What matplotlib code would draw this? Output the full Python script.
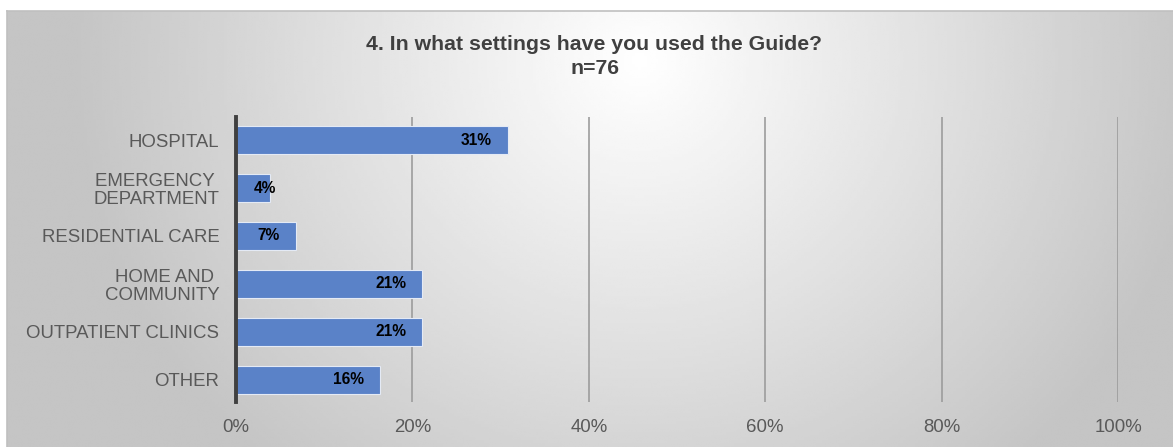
import numpy as np
import matplotlib.pyplot as plt

categories = ["HOSPITAL", "EMERGENCY \nDEPARTMENT", "RESIDENTIAL CARE",
              "HOME AND \nCOMMUNITY", "OUTPATIENT CLINICS", "OTHER"]
values = [30.8, 3.9, 6.8, 21.1, 21.1, 16.3]
value_labels = ["31%", "4%", "7%", "21%", "21%", "16%"]
xticks = [0, 20, 40, 60, 80, 100]
xtick_labels = ["0%", "20%", "40%", "60%", "80%", "100%"]

plt.rcParams["font.family"] = ["Liberation Sans", "DejaVu Sans"]

W, H = 1173, 447
fig = plt.figure(figsize=(W / 100, H / 100), dpi=100)
fig.patch.set_facecolor("white")

# gradient panel behind the chart
bg = fig.add_axes([7 / W, 0, 1 - 7 / W, 1 - 11 / H], zorder=0)
gx, gy = np.meshgrid(np.linspace(7, W, 400), np.linspace(11, H, 160))
t = np.sqrt(((gx - 640) / 570) ** 2 + ((gy - 60) / 540) ** 2)
shade = 1 - 0.23 * np.clip(t, 0, 1)
bg.imshow(shade, cmap="gray", vmin=0, vmax=1, aspect="auto",
          extent=[0, 1, 1, 0], interpolation="bilinear")
bg.set_xticks([])
bg.set_yticks([])
for side in ["right", "bottom"]:
    bg.spines[side].set_visible(False)
for side in ["top", "left"]:
    bg.spines[side].set_color("#c0c0c0")
    bg.spines[side].set_linewidth(1.2)

ax = fig.add_axes([236 / W, 1 - 402 / H, (1118 - 236) / W, (402 - 117) / H], zorder=1)
ax.patch.set_alpha(0)

ypos = np.arange(len(categories))
ax.barh(ypos, values, height=0.58, color="#5a82c8", edgecolor="#e4eaf5",
        linewidth=0.8, zorder=3)

for y, v, lab in zip(ypos, values, value_labels):
    ax.text(max(v - 1.8, 4.5), y, lab, ha="right", va="center",
            fontsize=11.2, fontweight="bold", color="black", zorder=4)

ax.set_xlim(0, 100)
ax.set_ylim(len(categories) - 1 + 0.46, -0.48)
ax.set_xticks(xticks)
ax.set_xticklabels(xtick_labels)
ax.set_yticks(ypos)
ax.set_yticklabels(categories, linespacing=1.05)
ax.tick_params(axis="x", length=0, pad=12, labelsize=13.4, labelcolor="#595959")
ax.tick_params(axis="y", length=0, pad=12, labelsize=13.4, labelcolor="#595959")

for x in xticks[1:]:
    ax.axvline(x, color="#9c9c9c", linewidth=1.2, zorder=1)

for side in ["top", "right", "bottom"]:
    ax.spines[side].set_visible(False)
ax.spines["left"].set_color("#404040")
ax.spines["left"].set_linewidth(2.8)
ax.spines["left"].set_zorder(5)

fig.text(594.5 / W, 1 - 45 / H, "4. In what settings have you used the Guide?",
         ha="center", va="center", fontsize=15.3, fontweight="bold", color="#404040")
fig.text(594.5 / W, 1 - 68 / H, "n=76",
         ha="center", va="center", fontsize=15.3, fontweight="bold", color="#404040")

fig.savefig("out.png", dpi=100)
